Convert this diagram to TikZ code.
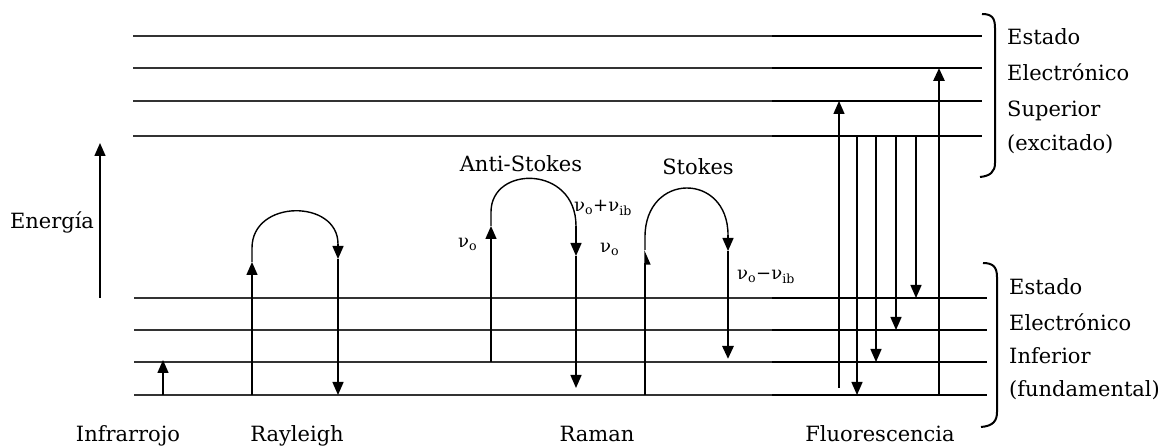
\documentclass[tikz,border=0pt]{standalone}
\usepackage{fontspec}
\setmainfont{DejaVu Serif}
\usetikzlibrary{arrows.meta}
\begin{document}
\begin{tikzpicture}[x=1pt,y=-1pt,
  lvl/.style={line width=1.5pt, draw=black!80},
  lvlb/.style={line width=2.8pt},
  tr/.style={line width=1.4pt},
  trb/.style={line width=2.8pt},
  arrowtip/.style={-{Triangle[width=11pt,length=13pt]}},
  halftip/.style={-{Triangle[width=11pt,length=13pt,right]}},
  lbl/.style={font=\fontsize{21}{24}\selectfont, inner sep=0pt},
  sml/.style={font=\fontsize{18}{20}\selectfont, inner sep=0pt},
  brace/.style={line width=2pt}]
\useasboundingbox (0,0) rectangle (1168,446);

% energy levels
\foreach \y [count=\i] in {36,68,101,136}{
  \coordinate (uL\i) at (133,\y);
  \coordinate (uM\i) at (772,\y);
  \coordinate (uR\i) at (982,\y);
  \draw[lvl] (uL\i) -- (uR\i);
  \draw[lvlb] (uM\i) -- (uR\i);
}
\foreach \y [count=\i] in {298,330,362,395}{
  \coordinate (lL\i) at (134,\y);
  \coordinate (lM\i) at (772,\y);
  \coordinate (lR\i) at (987,\y);
  \draw[lvl] (lL\i) -- (lR\i);
  \draw[lvlb] (lM\i) -- (lR\i);
}

% energy axis
\coordinate (e0) at (100,298);
\coordinate (e1) at (100,143);
\draw[tr,arrowtip] (e0) -- (e1);
\node[lbl, anchor=base] (energia) at (52,229) {Energía};

% infrared
\coordinate (ir0) at (163,395);
\coordinate (ir1) at (163,360);
\draw[tr,arrowtip] (ir0) -- (ir1);

% Rayleigh
\coordinate (r0) at (252,395);
\coordinate (r1) at (252,262);
\coordinate (r2) at (252,248);
\coordinate (r3) at (338,244);
\coordinate (r4) at (338,259);
\coordinate (r5) at (338,395);
\draw[tr,arrowtip] (r0) -- (r1);
\draw[tr] (r1) -- (r2) .. controls (252,199) and (338,199) .. (r3);
\draw[tr,arrowtip] (r3) -- (r4);
\draw[tr,arrowtip] (r4) -- (r5);

% Anti-Stokes
\coordinate (a0) at (491,362);
\coordinate (a1) at (491,226);
\coordinate (a2) at (491,212);
\coordinate (a3) at (576,226);
\coordinate (a4) at (576,256);
\coordinate (a5) at (576,388);
\draw[tr,arrowtip] (a0) -- (a1);
\draw[tr] (a1) -- (a2) .. controls (491,165) and (576,165) .. (a3);
\draw[tr,arrowtip] (a3) -- (a4);
\draw[tr,arrowtip] (a4) -- (a5);

% Stokes
\coordinate (s0) at (645,395);
\coordinate (s1) at (645,250);
\coordinate (s2) at (645,237);
\coordinate (s3) at (728,235);
\coordinate (s4) at (728,251);
\coordinate (s5) at (728,359);
\draw[tr,halftip] (s0) -- (s1);
\draw[tr] (s1) -- (s2) .. controls (645,172) and (728,172) .. (s3);
\draw[tr,arrowtip] (s3) -- (s4);
\draw[trb,arrowtip] (s4) -- (s5);

% Fluorescence
\coordinate (f0) at (839,388);
\coordinate (f1) at (839,101);
\draw[tr,arrowtip] (f0) -- (f1);
\foreach \x/\y [count=\i] in {857/395,876/362,896/330,916/298}{
  \coordinate (fd\i a) at (\x,136);
  \coordinate (fd\i b) at (\x,\y);
  \draw[tr,arrowtip] (fd\i a) -- (fd\i b);
}
\coordinate (g0) at (939,395);
\coordinate (g1) at (939,353);
\coordinate (g2) at (939,153);
\coordinate (g3) at (939,68);
\draw[trb] (g0) -- (g1);
\draw[tr] (g1) -- (g2);
\draw[trb,arrowtip] (g2) -- (g3);

% braces
\coordinate (b1a) at (982,14);
\coordinate (b1b) at (995,28);
\coordinate (b1c) at (995,163);
\coordinate (b1d) at (980,177);
\draw[brace] (b1a) .. controls (992,14) and (995,18) .. (b1b) -- (b1c) .. controls (995,172) and (990,176) .. (b1d);
\coordinate (b2a) at (983,263);
\coordinate (b2b) at (997,277);
\coordinate (b2c) at (997,412);
\coordinate (b2d) at (981,427);
\draw[brace] (b2a) .. controls (993,263) and (997,267) .. (b2b) -- (b2c) .. controls (997,421) and (993,426) .. (b2d);

% right texts
\node[lbl, anchor=base west] (t1) at (1007,45) {Estado};
\node[lbl, anchor=base west] (t2) at (1007,81) {Electrónico};
\node[lbl, anchor=base west] (t3) at (1007,117) {Superior};
\node[lbl, anchor=base west] (t4) at (1007,151) {(excitado)};
\node[lbl, anchor=base west] (t5) at (1009,295) {Estado};
\node[lbl, anchor=base west] (t6) at (1009,331) {Electrónico};
\node[lbl, anchor=base west] (t7) at (1009,364) {Inferior};
\node[lbl, anchor=base west] (t8) at (1009,397) {(fundamental)};

% bottom labels
\node[lbl, anchor=base] (infra) at (128,441) {Infrarrojo};
\node[lbl, anchor=base] (rayl) at (297,441) {Rayleigh};
\node[lbl, anchor=base] (raman) at (597,441) {Raman};
\node[lbl, anchor=base] (fluo) at (880,441) {Fluorescencia};

% Raman labels
\node[lbl, anchor=base] (antis) at (521,172) {Anti-Stokes};
\node[lbl, anchor=base] (stokes) at (698,175) {Stokes};
\node[sml, anchor=base west] (nu1) at (458,248) {ν\textsubscript{o}};
\node[sml, anchor=base west] (nu2) at (574,212) {ν\textsubscript{o}+ν\textsubscript{ib}};
\node[sml, anchor=base west] (nu3) at (600,253) {ν\textsubscript{o}};
\node[sml, anchor=base west] (nu4) at (737,280) {ν\textsubscript{o}−ν\textsubscript{ib}};
\end{tikzpicture}
\end{document}
